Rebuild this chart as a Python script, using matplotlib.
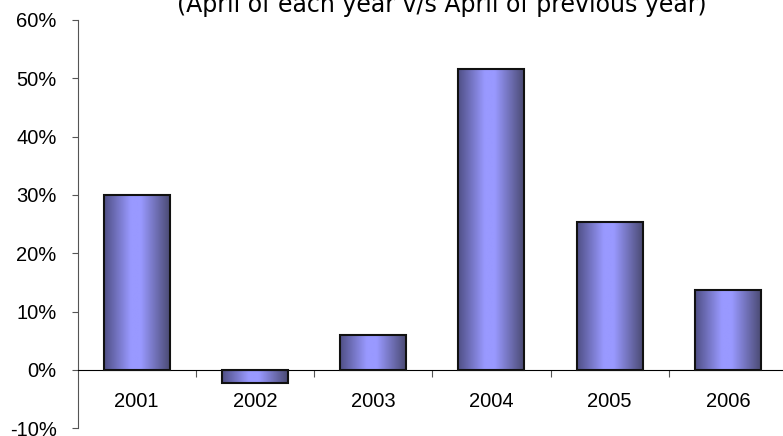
import matplotlib
matplotlib.use("Agg")
import matplotlib.pyplot as plt
import numpy as np
from matplotlib.colors import LinearSegmentedColormap
from matplotlib.ticker import FixedLocator, FuncFormatter

years = ["2001", "2002", "2003", "2004", "2005", "2006"]
growth = [30.0, -2.3, 6.0, 51.6, 25.3, 13.7]
title = "(April of each year v/s April of previous year)"

W, H = 783, 436
fig = plt.figure(figsize=(W / 100, H / 100), dpi=100)
ax = fig.add_axes([77.5 / W, 1 - 428.3 / H, (787 - 77.5) / W, (428.3 - 20) / H])

cmap = LinearSegmentedColormap.from_list(
    "cyl", [(0, "#4f4f85"), (0.4, "#9999ff"), (0.55, "#9999ff"), (1, "#48486f")])
grad = np.linspace(0, 1, 256).reshape(1, -1)
bw = 0.56
x = np.arange(len(years))
for xi, v in zip(x, growth):
    ax.imshow(grad, cmap=cmap, aspect="auto", interpolation="bilinear",
              extent=(xi - bw / 2, xi + bw / 2, min(0, v), max(0, v)), zorder=2)
ax.bar(x, growth, width=bw, facecolor="none", edgecolor="#111111", linewidth=1.5, zorder=3)

ax.set_xlim(-0.5, len(years) - 0.5)
ax.set_ylim(-10, 60)
ax.set_yticks(np.arange(-10, 61, 10))
ax.yaxis.set_major_formatter(FuncFormatter(lambda v, p: f"{v:.0f}%"))

ax.spines["top"].set_visible(False)
ax.spines["right"].set_visible(False)
ax.spines["bottom"].set_position(("data", 0))
ax.spines["bottom"].set_color("black")
ax.spines["left"].set_color("#555555")
ax.xaxis.set_major_locator(FixedLocator(np.arange(0.5, len(years) - 0.5, 1)))
ax.xaxis.set_major_formatter(FuncFormatter(lambda v, p: ""))
ax.xaxis.set_minor_locator(FixedLocator(x))
ax.set_xticklabels(years, minor=True)
ax.tick_params(axis="x", which="major", length=5, color="#555555", direction="out")
ax.tick_params(axis="x", which="minor", length=0, pad=16)
ax.tick_params(axis="y", length=4, color="#555555", pad=11)
for lab in ax.get_xticklabels(minor=True) + ax.get_yticklabels():
    lab.set_fontfamily("Liberation Sans")
    lab.set_fontsize(14.5)

fig.text(442 / W, 1 - 12 / H, title, ha="center", va="baseline",
         fontsize=17, family="DejaVu Sans")

fig.savefig("out.png", dpi=100)
